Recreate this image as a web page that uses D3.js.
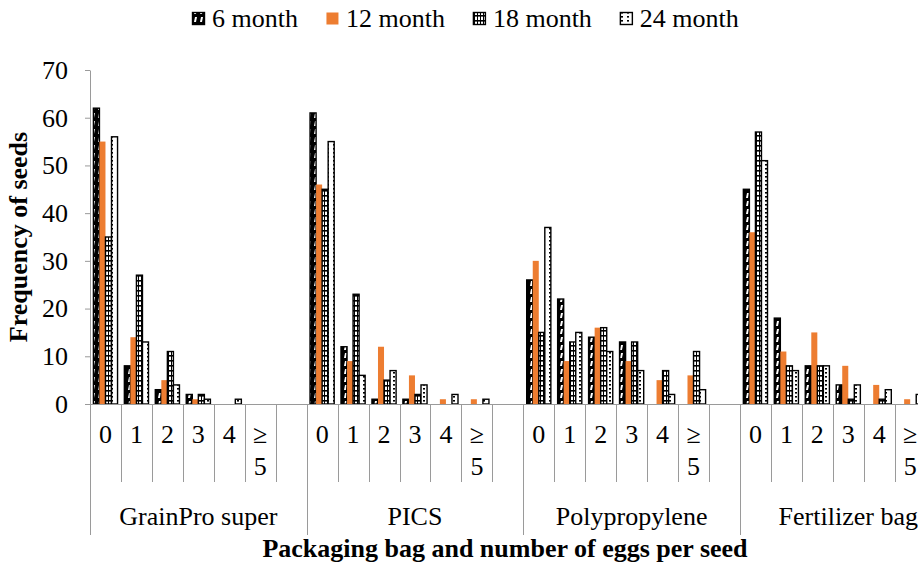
<!DOCTYPE html>
<html>
<head>
<meta charset="utf-8">
<script src="https://cdn.jsdelivr.net/npm/d3@7"></script>
<style>
  body { margin: 0; background: #fff; }
</style>
</head>
<body>
<div id="chart"></div>
<script>
// chart data
const groups = ["GrainPro super", "PICS", "Polypropylene", "Fertilizer bag"];
const eggCats = ["0", "1", "2", "3", "4", "≥5"];
const seriesNames = ["6 month", "12 month", "18 month", "24 month"];
const yTicks = [0, 10, 20, 30, 40, 50, 60, 70];

// values listed group by group, categories 0..≥5
const month6  = [62, 8, 3, 2, 0, 0,   61, 12, 1, 1, 0, 0,   26, 22, 14, 13, 0, 0,   45, 18, 8, 4, 0, 0];
const month12 = [55, 14, 5, 1, 0, 0,  46, 9, 12, 6, 1, 1,   30, 9, 16, 9, 5, 6,     36, 11, 15, 8, 4, 1];
const month18 = [35, 27, 11, 2, 0, 0, 45, 23, 5, 2, 0, 0,   15, 13, 16, 13, 7, 11,  57, 8, 8, 1, 1, 0];
const month24 = [56, 13, 4, 1, 1, 0,  55, 6, 7, 4, 2, 1,    37, 15, 11, 7, 2, 3,    51, 7, 8, 4, 3, 2];
const seriesValues = [month6, month12, month18, month24];

let svgWidth = 918
let svgHeight = 564
let fontSize = 26
let serif = "Liberation Serif"

let svg = d3.select("#chart")
    .append("svg")
        .attr("width", svgWidth)
        .attr("height", svgHeight)

//patterns used by the bars
let defs = svg.append("defs")

let p6 = defs.append("pattern")
    .attr("id", "p6").attr("patternUnits", "userSpaceOnUse")
    .attr("width", 6).attr("height", 8)
p6.append("rect").attr("width", 6).attr("height", 8).attr("fill", "#000")
p6.append("polygon").attr("points", "3,1 5,1 4,6 2,6").attr("fill", "#fff")

let p18 = defs.append("pattern")
    .attr("id", "p18").attr("patternUnits", "userSpaceOnUse")
    .attr("width", 3).attr("height", 5)
p18.append("rect").attr("width", 3).attr("height", 5).attr("fill", "#fff")
p18.append("rect").attr("width", 3).attr("height", 1.6).attr("fill", "#000")
p18.append("rect").attr("width", 1).attr("height", 5).attr("fill", "#000")

let p24 = defs.append("pattern")
    .attr("id", "p24").attr("patternUnits", "userSpaceOnUse")
    .attr("width", 6).attr("height", 4)
p24.append("rect").attr("width", 6).attr("height", 4).attr("fill", "#fff")
p24.append("rect").attr("x", 3).attr("width", 2).attr("height", 1.6).attr("fill", "#000")

const fills = ["url(#p6)", "#ED7D31", "url(#p18)", "url(#p24)"]
const strokes = ["#000", "none", "#000", "#000"]

//scales (the plot runs past the right edge, as in the reference)
let axisLeft = 90
let axisRight = 90 + 28 * 30.95
let y = d3.scaleLinear().domain([0, 70]).range([404, 70])

let groupScale = d3.scaleBand().domain(groups).range([axisLeft, axisRight])
let catScale = d3.scaleBand().domain([...eggCats, "gap"]).range([0, groupScale.bandwidth()])
let seriesScale = d3.scaleBand().domain(seriesNames)
    .range([3.4, catScale.bandwidth() - 3.4])

//y axis
let yAxis = svg.append("g")
    .attr("transform", `translate(${axisLeft},0)`)
    .call(d3.axisLeft(y).tickValues(yTicks).tickSize(5).tickPadding(17).tickSizeOuter(0))
yAxis.selectAll("path, line").attr("stroke", "#9a9a9a")
yAxis.selectAll("text")
    .attr("font-family", serif)
    .attr("font-size", fontSize)
    .attr("fill", "#000")

//bars
let barData = []
seriesNames.forEach(function(name, k){
    groups.forEach(function(g, gi){
        eggCats.forEach(function(c, ci){
            let v = seriesValues[k][gi * eggCats.length + ci]
            if (v > 0) barData.push({series: name, k: k, group: g, cat: c, value: v})
        })
    })
})

svg.append("g")
    .selectAll("rect")
    .data(barData)
    .join("rect")
    .attr("x", d => groupScale(d.group) + catScale(d.cat) + seriesScale(d.series))
    .attr("y", d => y(d.value))
    .attr("width", seriesScale.bandwidth())
    .attr("height", d => y(0) - y(d.value))
    .attr("fill", d => fills[d.k])
    .attr("stroke", d => strokes[d.k])
    .attr("stroke-width", 1.4)

//x axis line and separators
let xAxis = svg.append("g").attr("stroke", "#9a9a9a").attr("stroke-width", 1)
xAxis.append("line")
    .attr("x1", axisLeft).attr("x2", axisRight)
    .attr("y1", y(0) + 0.5).attr("y2", y(0) + 0.5)

groups.forEach(function(g){
    let gx = groupScale(g)
    for (let i = 1; i < 7; i++) {
        let lx = Math.round(gx + catScale.step() * i) + 0.5
        xAxis.append("line").attr("x1", lx).attr("x2", lx).attr("y1", y(0)).attr("y2", 482)
    }
    let bx = Math.round(gx) + 0.5
    xAxis.append("line").attr("x1", bx).attr("x2", bx).attr("y1", y(0)).attr("y2", 535)
})

//category labels
groups.forEach(function(g){
    eggCats.forEach(function(c){
        let cx = groupScale(g) + catScale(c) + catScale.bandwidth() / 2
        let t = svg.append("text")
            .attr("text-anchor", "middle")
            .attr("font-family", serif)
            .attr("font-size", fontSize)
        if (c.length > 1) {
            t.append("tspan").attr("x", cx).attr("y", 443).text(c[0])
            t.append("tspan").attr("x", cx).attr("y", 475).text(c.slice(1))
        } else {
            t.attr("x", cx).attr("y", 443).text(c)
        }
    })
    //group label
    svg.append("text")
        .attr("x", groupScale(g) + groupScale.bandwidth() / 2)
        .attr("y", 525)
        .attr("text-anchor", "middle")
        .attr("font-family", serif)
        .attr("font-size", fontSize)
        .text(g)
})

// AXIS TITLES
svg.append("text")
    .attr("x", 505).attr("y", 557)
    .attr("text-anchor", "middle")
    .attr("font-family", serif)
    .attr("font-size", fontSize)
    .attr("font-weight", "bold")
    .text("Packaging bag and number of eggs per seed")

svg.append("text")
    .attr("transform", "translate(27,237) rotate(-90)")
    .attr("text-anchor", "middle")
    .attr("font-family", serif)
    .attr("font-size", fontSize)
    .attr("font-weight", "bold")
    .text("Frequency of seeds")

//legend
let legend = svg.append("g")
let lx = 192
seriesNames.forEach(function(name, k){
    legend.append("rect")
        .attr("x", lx + 0.5).attr("y", 12.5)
        .attr("width", 12).attr("height", 12)
        .attr("fill", fills[k])
        .attr("stroke", strokes[k])
        .attr("stroke-width", 1.4)
    let t = legend.append("text")
        .attr("x", lx + 20).attr("y", 27)
        .attr("font-family", serif)
        .attr("font-size", fontSize)
        .text(name)
    lx = lx + 20 + t.node().getComputedTextLength() + 28
})
</script>
</body>
</html>
